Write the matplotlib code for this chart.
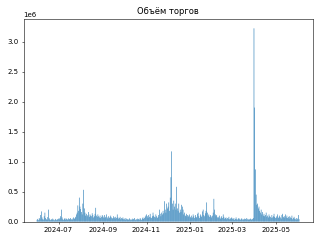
import matplotlib
matplotlib.use("Agg")
import matplotlib.pyplot as plt
import pandas as pd

# daily trading volume, thousands
jun24 = [30, 45, 25, 60, 40, 110, 170, 70, 40, 35, 90, 150, 60, 40, 30,
         75, 200, 55, 35, 25, 40, 30, 50, 35, 20, 30, 45, 25, 35, 40]
jul24 = [50, 40, 60, 90, 200, 70, 40, 30, 45, 60, 35, 50, 40, 30, 55, 45,
         35, 60, 40, 30, 50, 70, 45, 60, 80, 120, 150, 270, 180, 400, 250]
aug24 = [210, 160, 120, 300, 530, 220, 150, 100, 130, 90, 110, 160, 80, 120,
         100, 90, 140, 110, 70, 90, 130, 230, 100, 80, 120, 90, 70, 100, 60,
         80, 110]
sep24 = [90, 70, 110, 60, 80, 120, 70, 50, 90, 60, 80, 100, 70, 50, 60, 90,
         70, 50, 80, 60, 120, 70, 50, 60, 80, 40, 60, 50, 70, 40]
oct24 = [40, 60, 30, 50, 35, 45, 30, 55, 40, 25, 35, 50, 30, 45, 60, 35, 25,
         40, 50, 30, 45, 35, 60, 40, 30, 55, 70, 45, 60, 80, 100]
nov24 = [120, 90, 60, 110, 80, 130, 70, 60, 90, 150, 100, 80, 70, 120, 90,
         60, 80, 110, 200, 130, 90, 150, 120, 180, 140, 340, 200, 150, 300,
         220]
dec24 = [250, 320, 180, 400, 740, 1170, 300, 200, 350, 250, 300, 200, 580,
         220, 180, 300, 150, 200, 160, 280, 250, 200, 120, 150, 100, 90, 130,
         110, 80, 100, 120]
jan25 = [80, 60, 100, 70, 120, 90, 60, 110, 80, 70, 130, 150, 90, 60, 120,
         100, 80, 170, 200, 110, 90, 140, 180, 320, 150, 100, 120, 80, 110,
         90, 70]
feb25 = [100, 150, 380, 200, 120, 90, 110, 70, 80, 60, 100, 50, 70, 90, 60,
         120, 80, 50, 60, 70, 40, 60, 50, 80, 40, 50, 60, 70]
mar25 = [50, 40, 60, 30, 45, 70, 40, 35, 50, 60, 40, 30, 45, 55, 35, 40, 30,
         50, 45, 35, 60, 40, 30, 45, 35, 50, 40, 30, 45, 60, 3220]
apr25 = [1900, 870, 450, 280, 300, 220, 250, 180, 150, 200, 120, 160, 100,
         130, 90, 110, 150, 80, 100, 70, 120, 90, 80, 60, 110, 70, 90, 130,
         80, 60]
may25 = [70, 90, 120, 60, 80, 100, 70, 50, 110, 130, 80, 60, 90, 120, 70,
         100, 60, 80, 50, 90, 70, 60, 100, 40, 60, 80, 50, 40, 60, 30, 50]
jun25 = [110, 40]

volume = (jun24 + jul24 + aug24 + sep24 + oct24 + nov24 + dec24 + jan25
          + feb25 + mar25 + apr25 + may25 + jun25)
dates = pd.date_range("2024-06-01", periods=len(volume), freq="D")

fig, ax = plt.subplots(figsize=(6.4, 4.8), dpi=50)
bars = ax.bar(dates, [v * 1000 for v in volume])
for b in bars:
    b.set_snap(False)
ax.set_title("Объём торгов")
plt.tight_layout()
plt.savefig("out.png")
